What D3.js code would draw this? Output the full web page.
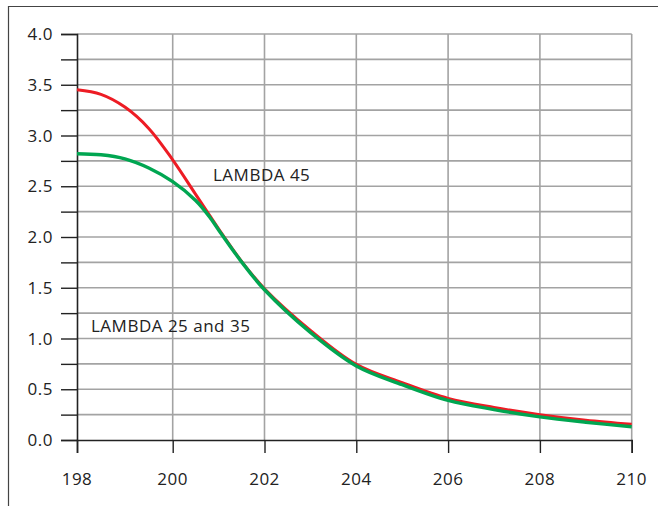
<!DOCTYPE html>
<html>
<head>
<meta charset="utf-8">
<script src="https://cdn.jsdelivr.net/npm/d3@7"></script>
<style>
  body { margin: 0; background: #fff; }
  svg { display: block; }
  text { font-family: "Open Sans", sans-serif; fill: #222; font-size: 17px; letter-spacing: 0.5px; }
</style>
</head>
<body>
<svg width="658" height="506"></svg>
<script>
// positions along the x axis
const xVals = [198, 198.5, 199, 199.5, 200, 200.5, 200.8, 201, 201.5, 202, 203, 204, 205, 206, 207, 208, 209, 210];
// LAMBDA 45 (red)
const lambda45 = [3.45, 3.405, 3.28, 3.07, 2.76, 2.42, 2.215, 2.08, 1.76, 1.49, 1.08, 0.745, 0.565, 0.41, 0.32, 0.25, 0.195, 0.155];
// LAMBDA 25 and 35 (green)
const lambda2535 = [2.82, 2.81, 2.77, 2.68, 2.545, 2.36, 2.20, 2.07, 1.755, 1.48, 1.06, 0.73, 0.545, 0.39, 0.30, 0.228, 0.175, 0.13];

const xTicks = [198, 200, 202, 204, 206, 208, 210];
const yTicks = [0, 0.5, 1, 1.5, 2, 2.5, 3, 3.5, 4];
const yMinor = d3.range(0, 4.01, 0.25);

const svg = d3.select("svg");

// first column is a bit wider in the original
const x = d3.scaleLinear().domain([198, 200, 210]).range([77, 172.7, 631.7]);
const y = d3.scaleLinear().domain([0, 4]).range([440, 34]);

// frame (top + left)
svg.append("path")
    .attr("d", "M8.5,506 L8.5,6.5 L658,6.5")
    .attr("fill", "none")
    .attr("stroke", "#444")
    .attr("stroke-width", 1.2);

// grid
const grid = svg.append("g");
grid.selectAll("line.h")
    .data(yMinor.filter(v => v > 0))
    .enter().append("line")
    .attr("x1", x(198)).attr("x2", x(210))
    .attr("y1", d => y(d)).attr("y2", d => y(d))
    .attr("stroke", "#a3a3a3").attr("stroke-width", 1.6);
grid.selectAll("line.v")
    .data(xTicks.filter(v => v > 198))
    .enter().append("line")
    .attr("x1", d => x(d)).attr("x2", d => x(d))
    .attr("y1", y(4)).attr("y2", y(0))
    .attr("stroke", "#a3a3a3").attr("stroke-width", 1.6);

// y axis
const yAxis = svg.append("g")
    .attr("transform", `translate(${x(198)},0)`)
    .call(d3.axisLeft(y).tickValues(yMinor).tickSize(16).tickFormat(""));
yAxis.select(".domain").attr("stroke", "#222").attr("stroke-width", 1.6);
yAxis.selectAll(".tick line").attr("stroke", "#222").attr("stroke-width", 1.4);

svg.append("g").selectAll("text")
    .data(yTicks)
    .enter().append("text")
    .attr("x", 53)
    .attr("y", d => y(d))
    .attr("dy", "0.36em")
    .attr("text-anchor", "end")
    .text(d => d.toFixed(1));

// x axis
const xAxis = svg.append("g")
    .attr("transform", `translate(0,${y(0)})`)
    .call(d3.axisBottom(x).tickValues(xTicks).tickSize(13).tickFormat(""));
xAxis.select(".domain").attr("stroke", "#222").attr("stroke-width", 1.6);
xAxis.selectAll(".tick line").attr("stroke", "#222").attr("stroke-width", 1.4);

svg.append("g").selectAll("text")
    .data(xTicks)
    .enter().append("text")
    .attr("x", d => x(d))
    .attr("y", 485)
    .attr("text-anchor", "middle")
    .text(d => d);

// curves
const line = d3.line()
    .x((d, i) => x(xVals[i]))
    .y(d => y(d))
    .curve(d3.curveCatmullRom.alpha(0.5));

svg.append("path")
    .datum(lambda45)
    .attr("d", line)
    .attr("fill", "none")
    .attr("stroke", "#ed1c24")
    .attr("stroke-width", 3);

svg.append("path")
    .datum(lambda2535)
    .attr("d", line)
    .attr("fill", "none")
    .attr("stroke", "#00a651")
    .attr("stroke-width", 3.4);

// labels
svg.append("text")
    .attr("x", 213).attr("y", 181)
    .text("LAMBDA 45");

svg.append("text")
    .attr("x", 91).attr("y", 332)
    .text("LAMBDA 25 and 35");
</script>
</body>
</html>
